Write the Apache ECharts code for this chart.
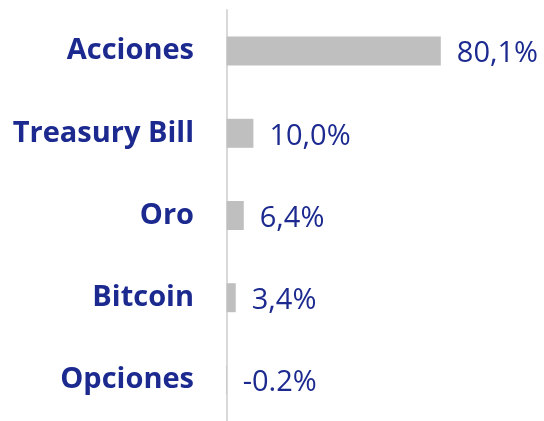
<!DOCTYPE html>
<html>
<head>
<meta charset="utf-8">
<script src="https://cdn.jsdelivr.net/npm/echarts@6/dist/echarts.min.js"></script>
<style>
  html, body { margin: 0; padding: 0; background: #fff; }
  #chart { width: 544px; height: 421px; }
</style>
</head>
<body>
<div id="chart"></div>
<script>
// rendimiento por activo
let categories = ['Acciones', 'Treasury Bill', 'Oro', 'Bitcoin', 'Opciones'];
let values = [80.1, 10.0, 6.4, 3.4, -0.2];
let valueLabels = ['80,1%', '10,0%', '6,4%', '3,4%', '-0.2%'];

let navy = '#1c2a90';
let myChart = echarts.init(document.getElementById('chart'));
let option = {
    backgroundColor: '#fff',
    animation: false,
    grid: { left: 224, top: 10, width: 270, height: 415 },
    xAxis: {
        type: 'value',
        min: -1,
        max: 100,
        show: false
    },
    yAxis: {
        type: 'category',
        data: categories,
        inverse: true,
        axisTick: { show: false },
        axisLine: { show: true, onZero: true, lineStyle: { color: '#d9d9d9', width: 2 } },
        axisLabel: {
            margin: 30,
            color: navy,
            fontFamily: 'Open Sans',
            fontWeight: 'bold',
            fontSize: 29
        }
    },
    series: [{
        type: 'bar',
        data: values,
        barWidth: 29,
        itemStyle: { color: '#bfbfbf' },
        label: {
            show: true,
            position: 'right',
            distance: 16,
            offset: [0, 3],
            color: navy,
            fontFamily: 'Open Sans',
            fontSize: 29,
            formatter: function (p) { return valueLabels[p.dataIndex]; }
        }
    }]
};
myChart.setOption(option);
</script>
</body>
</html>
